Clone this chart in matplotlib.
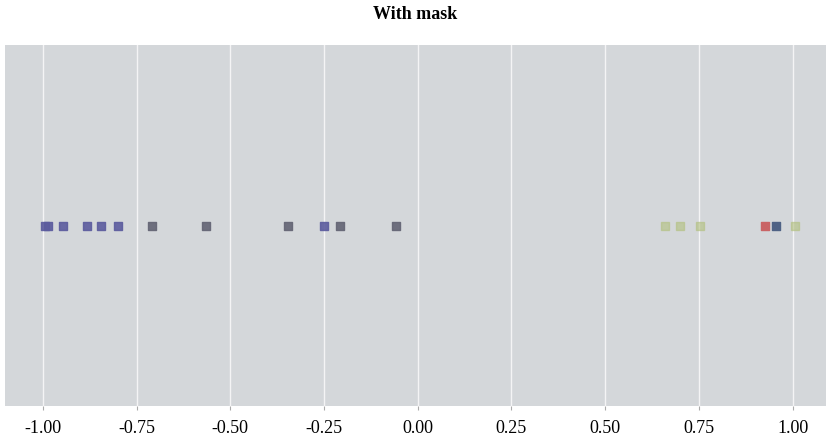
import matplotlib.pyplot as plt
import numpy as np

# posicoes dos pontos (com mascara)
xAzul = [-0.995, -0.985, -0.947, -0.883, -0.845, -0.800, -0.251]
xCinza = [-0.709, -0.565, -0.347, -0.208, -0.059]
xVerde = [0.659, 0.699, 0.752, 1.005]
xVermelho = [0.925]
xAzulEscuro = [0.955]

ticks = [-1.00, -0.75, -0.50, -0.25, 0.00, 0.25, 0.50, 0.75, 1.00]

plt.rcParams['font.family'] = ['Liberation Serif', 'DejaVu Serif']

fig = plt.figure(figsize=(8.29, 4.38), dpi=100)
ax = fig.add_axes([0.006, 0.073, 0.990, 0.824])
ax.set_facecolor('#d4d7da')

ax.scatter(xAzul, np.zeros(len(xAzul)), marker='s', s=40, color='#5c5c9e', alpha=0.9, zorder=3)
ax.scatter(xCinza, np.zeros(len(xCinza)), marker='s', s=40, color='#636474', alpha=0.9, zorder=3)
ax.scatter(xVerde, np.zeros(len(xVerde)), marker='s', s=40, color='#b2c07e', alpha=0.6, zorder=3)
ax.scatter(xVermelho, np.zeros(len(xVermelho)), marker='s', s=40, color='#c96466', zorder=3)
ax.scatter(xAzulEscuro, np.zeros(len(xAzulEscuro)), marker='s', s=40, color='#4f6285', zorder=3)

ax.set_xlim(-1.101, 1.088)
ax.set_ylim(-1, 1)
ax.set_xticks(ticks)
ax.set_xticklabels(['%.2f' % t for t in ticks], fontsize=13)
ax.set_yticks([])
ax.grid(axis='x', color='white', linewidth=1.0, alpha=0.75)
ax.set_axisbelow(True)
ax.tick_params(axis='x', length=3, color='#aaaaaa', pad=7)
for s in ax.spines.values():
    s.set_visible(False)

ax.set_title('With mask', fontsize=13, fontweight='bold', pad=19)

plt.savefig('out.png', dpi=100)
